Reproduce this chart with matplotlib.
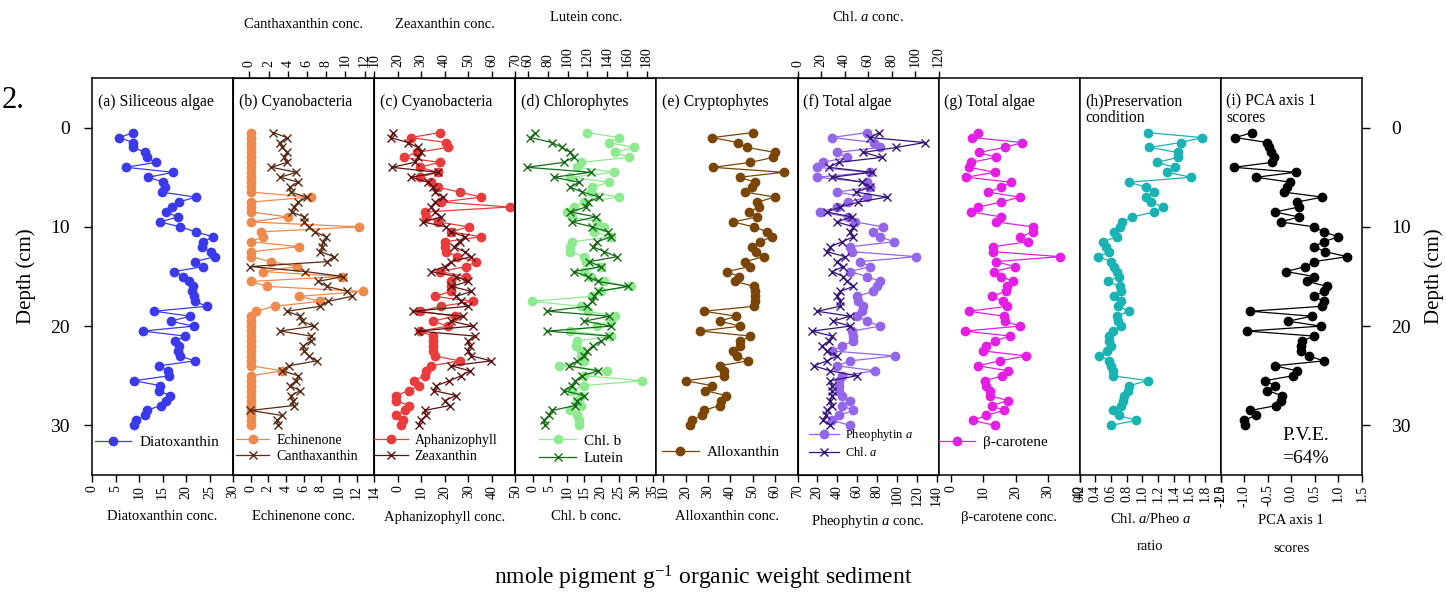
import matplotlib
matplotlib.use("Agg")
import matplotlib.pyplot as plt
from matplotlib.lines import Line2D
from matplotlib.ticker import FormatStrFormatter

plt.rcParams['font.family'] = ['Liberation Serif', 'DejaVu Serif']
plt.rcParams['mathtext.fontset'] = 'custom'
plt.rcParams['mathtext.rm'] = 'Liberation Serif'
plt.rcParams['mathtext.it'] = 'Liberation Serif:italic'
plt.rcParams['axes.unicode_minus'] = False

# ---------------- data ----------------
depth = [0.5, 1.0, 1.5, 2.0, 2.5, 3.0, 3.5, 4.0, 4.5, 5.0,
         5.5, 6.0, 6.5, 7.0, 7.5, 8.0, 8.5, 9.0, 9.5, 10.0,
         10.5, 11.0, 11.5, 12.0, 12.5, 13.0, 13.5, 14.0, 14.5, 15.0,
         15.5, 16.0, 16.5, 17.0, 17.5, 18.0, 18.5, 19.0, 19.5, 20.0,
         20.5, 21.0, 21.5, 22.0, 22.5, 23.0, 23.5, 24.0, 24.5, 25.0,
         25.5, 26.0, 26.5, 27.0, 27.5, 28.0, 28.5, 29.0, 29.5, 30.0]

diatoxanthin = [8.8, 5.8, 8.7, 8.8, 11.3, 11.6, 13.6, 7.2, 17.3, 12.0,
                15.2, 15.5, 14.8, 22.1, 18.4, 17.0, 15.7, 18.2, 14.5, 18.7,
                22.1, 25.7, 23.7, 23.3, 25.3, 26.2, 21.8, 23.7, 17.5, 19.3,
                20.7, 21.5, 21.2, 21.6, 21.8, 24.4, 13.2, 20.9, 16.7, 21.6,
                10.8, 19.8, 17.7, 18.4, 18.2, 18.7, 21.8, 14.3, 16.2, 16.4,
                9.0, 14.5, 14.2, 16.5, 15.8, 14.6, 11.6, 11.3, 9.4, 8.9]

echinenone = [0, 0, 0, 0, 0, 0, 0, 0, 0, 0,
              0, 0, 0, 6.8, 0, 0, 0, 4.2, 0, 12.3,
              1.2, 1.4, 0, 5.5, 0, 0, 2.3, 5.3, 1.4, 10.4,
              0, 1.9, 12.7, 5.5, 7.9, 2.7, 0.6, 0, 0, 0,
              0, 0, 0, 0, 0, 0, 0, 0, 3.6, 0,
              0, 0, 0, 0, 0, 0, 0, 0, 0, 0]

canthaxanthin = [2.5, 3.9, 3.2, 3.4, 3.9, 3.6, 3.9, 2.3, 4.9, 3.2,
                 5.1, 4.2, 4.3, 6.0, 5.1, 4.6, 4.4, 5.7, 5.7, 6.2,
                 6.8, 8.0, 7.7, 7.6, 7.4, 8.8, 8.1, 0.1, 5.8, 9.8,
                 7.1, 8.1, 10.2, 10.7, 8.2, 7.4, 3.9, 5.3, 5.5, 6.7,
                 3.2, 6.4, 6.4, 5.6, 5.7, 6.2, 7.0, 4.1, 3.4, 5.1,
                 4.9, 4.2, 5.3, 4.3, 4.5, 4.6, 0.1, 3.4, 2.9, 3.0]

aphanizophyll = [17.8, 5.5, 20.6, 21.3, 8.0, 2.6, 17.8, 9.3, 17.1, 9.3,
                 14.3, 17.1, 26.3, 35.5, 18.5, 47.6, 11.4, 12.1, 17.1, 30.1,
                 22.5, 35.5, 19.9, 20.2, 20.6, 25.3, 33.4, 29.2, 17.8, 28.9,
                 22.8, 22.5, 22.8, 15.7, 32.0, 18.5, 9.3, 24.2, 15.0, 21.3,
                 9.3, 15.0, 15.0, 15.0, 15.0, 15.7, 26.3, 14.3, 12.1, 11.4,
                 6.9, 9.0, 4.6, -0.6, -0.6, 4.6, 2.9, -0.6, 2.2, 1.5]

zeaxanthin = [18.0, 17.0, 24.3, 28.6, 30.0, 28.6, 27.2, 17.5, 37.1, 25.7,
              32.8, 35.0, 36.0, 39.2, 36.0, 34.2, 36.0, 38.5, 30.7, 40.6,
              42.8, 48.4, 46.3, 44.0, 48.4, 51.3, 42.8, 40.0, 34.2, 44.9,
              49.9, 42.8, 51.3, 44.9, 47.0, 49.9, 26.5, 47.7, 42.8, 52.0,
              28.6, 52.7, 49.9, 50.6, 49.9, 51.3, 59.8, 42.8, 50.6, 47.0,
              42.0, 36.4, 35.5, 44.9, 40.0, 42.1, 31.4, 32.1, 29.7, 29.0]

chl_b = [15.9, 25.1, 22.2, 29.5, 24.1, 28.0, 14.0, 13.0, 23.7, 11.0,
         22.2, 17.4, 17.0, 25.1, 14.9, 12.0, 10.1, 11.5, 18.8, 20.8,
         18.0, 22.7, 11.5, 11.0, 11.0, 14.9, 15.4, 19.8, 14.9, 16.9,
         20.8, 28.5, 19.8, 17.4, -0.1, 14.0, 16.0, 24.1, 22.7, 18.8,
         11.0, 22.7, 13.0, 12.5, 14.0, 14.0, 15.0, 7.7, 21.7, 14.9,
         31.9, 14.9, 11.5, 14.0, 13.0, 14.0, 11.0, 13.0, 13.5, 13.5]

lutein = [67.3, 62.2, 84.2, 94.3, 102.8, 106.2, 95.9, 58.8, 123.7, 85.9,
          111.6, 102.8, 115.0, 132.3, 120.4, 118.7, 102.8, 128.9, 104.5, 125.0,
          140.7, 144.1, 130.0, 125.5, 137.4, 150.2, 122.1, 133.9, 106.2, 120.4,
          130.6, 161.0, 130.6, 127.2, 125.0, 120.0, 79.6, 142.4, 117.0, 144.1,
          79.6, 142.4, 133.9, 125.5, 120.0, 117.0, 110.0, 101.1, 130.6, 115.0,
          108.0, 104.5, 95.9, 117.0, 110.0, 107.9, 84.2, 80.8, 75.8, 77.5]

alloxanthin = [50.2, 31.9, 43.3, 47.5, 60.1, 59.1, 49.0, 32.3, 63.8, 44.2,
               51.2, 49.7, 46.7, 60.1, 52.0, 52.7, 48.2, 52.0, 41.2, 50.5,
               56.4, 58.6, 53.4, 49.7, 51.6, 54.9, 46.7, 48.7, 38.5, 43.8,
               42.3, 50.5, 51.2, 51.2, 51.2, 50.8, 28.1, 42.7, 35.2, 44.5,
               26.6, 49.0, 44.5, 44.5, 41.2, 43.0, 47.8, 35.2, 37.4, 37.1,
               20.0, 31.9, 28.9, 38.2, 35.9, 35.2, 28.1, 27.4, 22.9, 21.9]

pheophytin_a = [69.7, 34.7, 77.0, 83.0, 39.7, 50.3, 25.7, 19.7, 73.0, 19.7,
                69.7, 73.0, 39.7, 69.7, 51.3, 40.0, 23.0, 51.3, 58.0, 86.3,
                75.7, 83.0, 97.3, 53.0, 55.0, 119.7, 63.0, 73.0, 53.0, 69.7,
                83.0, 80.0, 76.3, 60.0, 61.3, 66.3, 64.7, 60.0, 70.0, 83.0,
                55.0, 56.3, 56.3, 44.7, 34.7, 98.0, 53.0, 40.0, 78.0, 45.0,
                41.3, 41.3, 41.3, 45.0, 53.0, 45.0, 56.3, 41.3, 35.0, 53.0]

chl_a = [69.6, 61.7, 108.2, 83.7, 56.0, 71.5, 35.0, 26.5, 63.1, 29.3,
         55.0, 61.7, 50.0, 75.8, 51.8, 36.4, 25.1, 46.2, 33.5, 47.6,
         45.0, 47.6, 38.0, 28.0, 25.1, 40.5, 33.5, 39.1, 29.3, 39.1,
         42.0, 47.6, 36.4, 33.5, 36.4, 36.4, 16.6, 44.8, 30.0, 44.8,
         12.4, 29.3, 27.0, 20.8, 25.0, 33.5, 25.0, 13.8, 27.9, 50.4,
         27.9, 29.3, 29.3, 29.3, 27.9, 29.3, 25.1, 24.0, 22.0, 27.9]

beta_carotene = [8.3, 6.5, 22.1, 16.6, 8.6, 13.8, 6.2, 5.5, 13.5, 4.6,
                 18.7, 15.6, 11.4, 21.3, 15.6, 8.3, 6.2, 15.6, 13.8, 25.5,
                 25.5, 21.3, 23.9, 12.9, 12.9, 34.0, 13.8, 19.8, 13.2, 15.6,
                 19.2, 17.4, 16.9, 12.5, 16.1, 17.4, 5.5, 16.3, 16.6, 21.3,
                 4.1, 18.2, 13.5, 10.7, 9.9, 23.4, 15.0, 8.3, 17.7, 15.9,
                 10.4, 10.7, 12.1, 11.9, 17.7, 12.5, 16.3, 10.7, 6.7, 13.5]

chla_pheoa_ratio = [1.07, 1.76, 1.49, 1.09, 1.45, 1.45, 1.19, 1.41, 1.32, 1.62,
                    0.83, 1.05, 1.15, 1.05, 1.11, 1.26, 1.15, 0.87, 0.74, 0.71,
                    0.64, 0.67, 0.50, 0.54, 0.58, 0.43, 0.60, 0.64, 0.67, 0.70,
                    0.56, 0.71, 0.73, 0.64, 0.73, 0.69, 0.83, 0.67, 0.69, 0.73,
                    0.62, 0.58, 0.58, 0.60, 0.55, 0.45, 0.58, 0.60, 0.62, 0.62,
                    1.07, 0.83, 0.81, 0.77, 0.75, 0.73, 0.62, 0.70, 0.92, 0.60]

pca_axis1 = [-0.83, -1.19, -0.51, -0.48, -0.44, -0.37, -0.41, -1.22, 0.09, -0.75,
             -0.02, -0.09, -0.16, 0.66, 0.12, 0.16, -0.35, 0.16, -0.23, 0.48,
             0.69, 1.00, 0.69, 0.48, 0.71, 1.19, 0.48, 0.30, -0.11, 0.48,
             0.34, 0.76, 0.69, 0.48, 0.69, 0.66, -0.87, 0.44, -0.07, 0.62,
             -0.94, 0.48, 0.23, 0.20, 0.20, 0.37, 0.69, -0.35, 0.12, 0.03,
             -0.56, -0.35, -0.51, -0.20, -0.23, -0.32, -0.87, -0.76, -1.01, -0.98]

panel_titles = ["(a) Siliceous algae", "(b) Cyanobacteria", "(c) Cyanobacteria",
                "(d) Chlorophytes", "(e) Cryptophytes", "(f) Total algae",
                "(g) Total algae", "(h)Preservation\ncondition", "(i) PCA axis 1\nscores"]
bottom_labels = ["Diatoxanthin conc.", "Echinenone conc.", "Aphanizophyll conc.",
                 "Chl. b conc.", "Alloxanthin conc.", "Pheophytin $\\it{a}$ conc.",
                 "β-carotene conc.", "Chl. $\\it{a}$/Pheo $\\it{a}$\nratio", "PCA axis 1\nscores"]
depth_ticks = [0, 10, 20, 30]

# ---------------- figure ----------------
W_PX, H_PX = 1446, 599
fig = plt.figure(figsize=(W_PX / 100, H_PX / 100), dpi=100)

x0, pw = 92 / W_PX, 141.1 / W_PX
y0, ph = (H_PX - 475) / H_PX, 397 / H_PX

TICK_FS = 10
LAB_FS = 10.5
MS = 6


def make_ax(i):
    ax = fig.add_axes([x0 + i * pw, y0, pw, ph])
    ax.set_ylim(35, -5)
    for s in ax.spines.values():
        s.set_linewidth(1.1)
    ax.tick_params(axis='x', direction='out', length=5, width=1, labelsize=TICK_FS,
                   labelrotation=90, pad=2)
    ax.tick_params(axis='y', left=False, labelleft=False, right=False, labelright=False)
    return ax


def twin_top(ax, xlim, ticks, label):
    tw = ax.twiny()
    tw.set_xlim(*xlim)
    tw.set_xticks(ticks)
    tw.tick_params(axis='x', direction='out', length=5, width=1, labelsize=TICK_FS,
                   labelrotation=90, pad=3)
    tw.set_xlabel(label, fontsize=LAB_FS, labelpad=18)
    return tw


def title(ax, txt):
    ax.text(0.04, 0.96, txt, transform=ax.transAxes, fontsize=11.3, va='top', ha='left',
            linespacing=1.0)


def series(ax, x, color, marker, ms=MS, mew=1.0, lw=0.9):
    if marker == 'o':
        ax.plot(x, depth, '-', color=color, lw=lw, marker='o', ms=ms, mec=color, mfc=color)
    else:
        ax.plot(x, depth, '-', color=color, lw=lw, marker='x', ms=ms - 0.5, mew=mew, mec=color)


def handle(color, marker, ms=MS):
    if marker == 'o':
        return Line2D([], [], color=color, lw=0.9, marker='o', ms=ms, mec=color, mfc=color)
    return Line2D([], [], color=color, lw=0.9, marker='x', ms=ms - 0.5, mew=1.0, mec=color)


def legend(ax, handles, labels, anchor, fs=10.5):
    leg = ax.legend(handles, labels, loc='lower left', bbox_to_anchor=anchor, frameon=False,
                    fontsize=fs, handlelength=2.4, handletextpad=0.5, borderaxespad=0,
                    borderpad=0, labelspacing=0.25)
    leg.set_zorder(10)


c_dia, c_echi, c_can = '#3a3aea', '#f08a4c', '#5a2a14'
c_aph, c_zea = '#ea3c3c', '#5c1212'
c_chlb, c_lut = '#8eea8e', '#166b16'
c_allo = '#7a4506'
c_pheo, c_chla = '#9466ea', '#34137a'
c_bcar, c_ratio = '#e41ee4', '#19b3b3'

# (a)
ax = make_ax(0)
ax.set_xlim(0, 30)
ax.set_xticks([0, 5, 10, 15, 20, 25, 30])
series(ax, diatoxanthin, c_dia, 'o')
ax.tick_params(axis='y', left=True, labelleft=True, direction='out', length=6, width=1,
               labelsize=14, labelrotation=0, pad=10)
ax.set_yticks(depth_ticks)
ax.set_ylabel("Depth (cm)", fontsize=15, labelpad=10)
title(ax, panel_titles[0])
legend(ax, [handle(c_dia, 'o')], ["Diatoxanthin"], (0.02, 0.065), fs=11)

# (b)
ax = make_ax(1)
ax.set_xlim(-2, 14)
ax.set_xticks([0, 2, 4, 6, 8, 10, 12, 14])
series(ax, echinenone, c_echi, 'o')
tw = twin_top(ax, (-1.7, 13), [0, 2, 4, 6, 8, 10, 12], "Canthaxanthin conc.")
series(tw, canthaxanthin, c_can, 'x')
title(ax, panel_titles[1])
legend(tw, [handle(c_echi, 'o'), handle(c_can, 'x')], ["Echinenone", "Canthaxanthin"],
       (0.02, 0.03), fs=10)

# (c)
ax = make_ax(2)
ax.set_xlim(-10, 50)
ax.set_xticks([0, 10, 20, 30, 40, 50])
series(ax, aphanizophyll, c_aph, 'o')
tw = twin_top(ax, (10, 70), [10, 20, 30, 40, 50, 60, 70], "Zeaxanthin conc.")
series(tw, zeaxanthin, c_zea, 'x')
title(ax, panel_titles[2])
legend(tw, [handle(c_aph, 'o'), handle(c_zea, 'x')], ["Aphanizophyll", "Zeaxanthin"],
       (0.0, 0.03), fs=10)

# (d)
ax = make_ax(3)
ax.set_xlim(-5, 36)
ax.set_xticks([0, 5, 10, 15, 20, 25, 30, 35])
series(ax, chl_b, c_chlb, 'o')
tw = twin_top(ax, (47, 190), [60, 80, 100, 120, 140, 160, 180], "Lutein conc.")
series(tw, lutein, c_lut, 'x')
title(ax, panel_titles[3])
legend(tw, [handle(c_chlb, 'o'), handle(c_lut, 'x')], ["Chl. b", "Lutein"],
       (0.17, 0.025), fs=11)

# (e)
ax = make_ax(4)
ax.set_xlim(7, 70)
ax.set_xticks([10, 20, 30, 40, 50, 60, 70])
series(ax, alloxanthin, c_allo, 'o')
title(ax, panel_titles[4])
legend(ax, [handle(c_allo, 'o')], ["Alloxanthin"], (0.04, 0.04), fs=11)

# (f)
ax = make_ax(5)
ax.set_xlim(0, 142)
ax.set_xticks([20, 40, 60, 80, 100, 120, 140])
series(ax, pheophytin_a, c_pheo, 'o')
tw = twin_top(ax, (0, 120), [0, 20, 40, 60, 80, 100, 120], "Chl. $\\it{a}$ conc.")
series(tw, chl_a, c_chla, 'x')
title(ax, panel_titles[5])
legend(tw, [handle(c_pheo, 'o'), handle(c_chla, 'x')], ["Pheophytin $\\it{a}$", "Chl. $\\it{a}$"],
       (0.08, 0.04), fs=9)

# (g)
ax = make_ax(6)
ax.set_xlim(-4, 40)
ax.set_xticks([0, 10, 20, 30, 40])
series(ax, beta_carotene, c_bcar, 'o')
title(ax, panel_titles[6])
legend(ax, [handle(c_bcar, 'o')], ["β-carotene"], (0.0, 0.065), fs=11)

# (h)
ax = make_ax(7)
ax.set_xlim(0.2, 2.0)
ax.set_xticks([0.2, 0.4, 0.6, 0.8, 1.0, 1.2, 1.4, 1.6, 1.8, 2.0])
ax.xaxis.set_major_formatter(FormatStrFormatter('%.1f'))
series(ax, chla_pheoa_ratio, c_ratio, 'o')
title(ax, panel_titles[7])

# (i)
ax = make_ax(8)
ax.set_xlim(-1.5, 1.5)
ax.set_xticks([-1.5, -1.0, -0.5, 0.0, 0.5, 1.0, 1.5])
ax.xaxis.set_major_formatter(FormatStrFormatter('%.1f'))
series(ax, pca_axis1, 'black', 'o')
ax.tick_params(axis='y', right=True, labelright=True, direction='out', length=6, width=1,
               labelsize=14, labelrotation=0, pad=15)
ax.set_yticks(depth_ticks)
ax.yaxis.set_label_position('right')
ax.set_ylabel("Depth (cm)", fontsize=15, labelpad=10)
title(ax, panel_titles[8])
ax.text(0.6, 0.07, "P.V.E.\n=64%", transform=ax.transAxes, fontsize=14, ha='center',
        va='center', linespacing=1.45)

# bottom labels
label_y = [517, 517, 517, 517, 517, 522, 517, 519, 520]
for i, lab in enumerate(bottom_labels):
    xc = (92 + (i + 0.5) * 141.1) / W_PX
    for k, line in enumerate(lab.split("\n")):
        fig.text(xc, 1 - (label_y[i] + 28 * k) / H_PX, line, fontsize=LAB_FS,
                 ha='center', va='center')

fig.text(703 / W_PX, 1 - 578 / H_PX, "nmole pigment g$^{-1}$ organic weight sediment",
         fontsize=17, ha='center', va='center')
fig.text(2 / W_PX, 1 - 100 / H_PX, "2.", fontsize=22, ha='left', va='center')

fig.savefig("out.png", dpi=100)
